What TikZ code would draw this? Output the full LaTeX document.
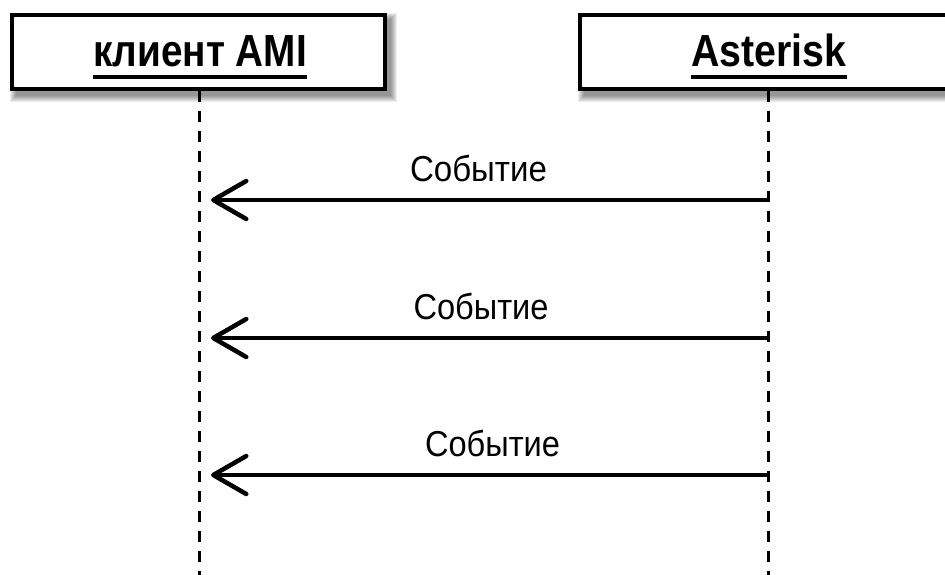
\documentclass[tikz,border=0pt]{standalone}
\usepackage{graphicx}
\usepackage{fontspec}
\setmainfont{Liberation Sans}
\usetikzlibrary{arrows.meta}
\newsavebox\fitbox
\newcommand\fitw[2]{\sbox\fitbox{#2}\pgfmathsetmacro\fitsx{#1/\the\wd\fitbox}\scalebox{\fitsx}[1]{\usebox\fitbox}}
\tikzset{
  actorbox/.style={draw=black, line width=4pt, fill=white, minimum height=74pt, inner sep=0pt},
  titletext/.style={inner sep=0pt, font=\fontsize{45}{48}\selectfont\bfseries},
  uline/.style={line width=4.5pt},
  lifeline/.style={line width=3pt, dash pattern=on 11pt off 9pt},
  msg/.style={line width=4pt, line cap=round, line join=round, -{Straight Barb[length=33pt,width=38pt,line width=4.5pt,round]}},
  msglabel/.style={inner sep=0pt, anchor=base, font=\fontsize{36}{40}\selectfont},
  shadowfill/.style={fill=black, opacity=0.07}
}
\begin{document}
\begin{tikzpicture}[x=1pt,y=-1pt]
\useasboundingbox (0,0) rectangle (945,575);
\fill[white] (0,0) rectangle (945,575);
% lifelines
\coordinate (lbot) at (199,575);
\coordinate (rbot) at (768,575);
\draw[lifeline] (199,91) coordinate (ltop) -- (lbot);
\draw[lifeline] (768,91) coordinate (rtop) -- (rbot);
% shadows
\foreach \i in {0,1,2,3,4,5,6} {
  \fill[shadowfill] (14-\i+2,17-\i+2) rectangle (391+\i,96+\i);
  \fill[shadowfill] (582-\i+2,17-\i+2) rectangle (962+\i,96+\i);
}
% boxes
\node[actorbox, minimum width=373pt] (cb) at (198.5,52) {};
\node[actorbox, minimum width=376pt] (ab) at (768,52) {};
\node[titletext, anchor=base] (ct) at (200,67) {\fitw{214pt}{клиент AMI}};
\draw[uline] ([yshift=-10pt]ct.base west) -- ([yshift=-10pt]ct.base east);
\node[titletext, anchor=base] (at) at (769,67) {\fitw{155pt}{Asterisk}};
\draw[uline] ([yshift=-10pt]at.base west) -- ([yshift=-10pt]at.base east);
% messages
\coordinate (r1) at (768,200); \coordinate (l1) at (211,200);
\coordinate (r2) at (768,338); \coordinate (l2) at (211,338);
\coordinate (r3) at (768,475); \coordinate (l3) at (211,475);
\draw[msg] (r1) -- (l1);
\draw[msg] (r2) -- (l2);
\draw[msg] (r3) -- (l3);
\node[msglabel] (m1) at (478.5,182) {\fitw{137pt}{Событие}};
\node[msglabel] (m2) at (481,319) {\fitw{135pt}{Событие}};
\node[msglabel] (m3) at (492.5,456) {\fitw{135pt}{Событие}};
\end{tikzpicture}
\end{document}
